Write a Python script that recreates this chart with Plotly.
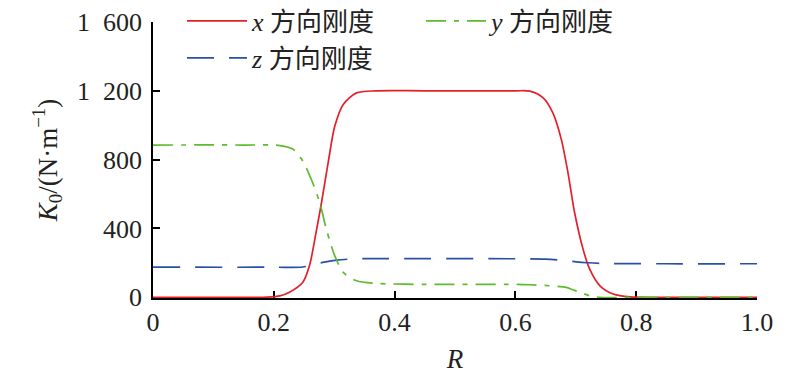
import plotly.graph_objects as go

# x-direction stiffness (red, solid)
r_x = [0, 0.15, 0.19, 0.21, 0.226, 0.248, 0.259, 0.27, 0.279, 0.29, 0.301, 0.315, 0.337, 0.37, 0.45,
       0.6, 0.624, 0.646, 0.662, 0.676, 0.687, 0.698, 0.712, 0.723, 0.74, 0.762, 0.79, 0.85, 1.0]
k_x = [0, 0, 1, 8, 29, 87, 183, 377, 551, 783, 995, 1121, 1188, 1200, 1200,
       1200, 1198, 1159, 1072, 918, 725, 493, 280, 164, 67, 19, 2, 0, 0]

# y-direction stiffness (green, dash-dot)
r_y = [0, 0.15, 0.21, 0.232, 0.248, 0.262, 0.276, 0.287, 0.301, 0.315, 0.337, 0.37, 0.45,
       0.6, 0.624, 0.657, 0.684, 0.695, 0.71, 0.723, 0.74, 0.8, 1.0]
k_y = [885, 885, 882, 860, 792, 686, 551, 396, 241, 145, 96, 81, 75,
       75, 73, 67, 58, 44, 25, 9, 0, 0, 0]

# z-direction stiffness (blue, dashed)
r_z = [0, 0.2, 0.248, 0.281, 0.304, 0.326, 0.36, 0.45, 0.6, 0.649, 0.68, 0.701, 0.72, 0.742, 0.77, 0.85, 1.0]
k_z = [175, 175, 176, 203, 216, 222, 225, 225, 224, 222, 214, 206, 201, 197, 196, 195, 195]

names = ["<i>x</i> 方向刚度", "<i>y</i> 方向刚度", "<i>z</i> 方向刚度"]

x_ticks = [0, 0.2, 0.4, 0.6, 0.8, 1.0]
x_ticktext = ["0", "0.2", "0.4", "0.6", "0.8", "1.0"]
y_ticks = [0, 400, 800, 1200, 1600]
y_ticktext = ["0", "400", "800", "1\u2002200", "1\u2002600"]

FONT = '"Liberation Serif", "Noto Sans CJK SC", serif'
OFF = 8  # page body margin offset

fig = go.Figure()
fig.add_trace(go.Scatter(x=r_x, y=k_x, mode="lines", name=names[0], legend="legend",
                         line=dict(color="#e3202a", width=1.7, shape="spline", smoothing=0.8)))
fig.add_trace(go.Scatter(x=r_z, y=k_z, mode="lines", name=names[2], legend="legend3",
                         line=dict(color="#2a4fa8", width=1.7, dash="27px,15px", shape="spline", smoothing=0.8)))
fig.add_trace(go.Scatter(x=r_y, y=k_y, mode="lines", name=names[1], legend="legend2",
                         line=dict(color="#5dbb2e", width=1.7, dash="20px,8px,5px,8px", shape="spline", smoothing=0.8)))

leg_common = dict(orientation="h", xref="container", yref="container", xanchor="left", yanchor="middle",
                  font=dict(family=FONT, size=26, color="#222"), bgcolor="rgba(0,0,0,0)",
                  itemwidth=60, borderwidth=0)

fig.update_layout(
    width=800, height=379,
    margin=dict(l=153 - OFF, r=43 + OFF, t=22 - OFF, b=81 + OFF, autoexpand=False),
    plot_bgcolor="white", paper_bgcolor="white",
    font=dict(family=FONT, size=26, color="#222"),
    showlegend=True,
    legend=dict(x=(182 - OFF) / 800, y=1 - (21 - OFF) / 379, **leg_common),
    legend2=dict(x=(421 - OFF) / 800, y=1 - (21 - OFF) / 379, **leg_common),
    legend3=dict(x=(182 - OFF) / 800, y=1 - (58 - OFF) / 379, **leg_common),
    xaxis=dict(range=[0, 1.0], tickvals=x_ticks, ticktext=x_ticktext, ticks="inside", ticklen=7,
               tickwidth=1.5, tickcolor="black", showline=True, linecolor="black", linewidth=1.5,
               showgrid=False, zeroline=False, layer="below traces", ticklabeloverflow="allow",
               title=dict(text="<i>R</i>", standoff=13, font=dict(size=27))),
    yaxis=dict(range=[-4, 1600], tickvals=y_ticks, ticktext=y_ticktext, ticks="inside", ticklen=7,
               tickwidth=1.5, tickcolor="black", showline=True, linecolor="black", linewidth=1.5,
               showgrid=False, zeroline=False, layer="below traces", ticklabelstandoff=4,
               ticklabeloverflow="allow",
               title=dict(text="<i>K</i><sub>0</sub>/(N·m<sup>−1</sup>)", standoff=12, font=dict(size=27))),
)

fig.write_html("out.html")
